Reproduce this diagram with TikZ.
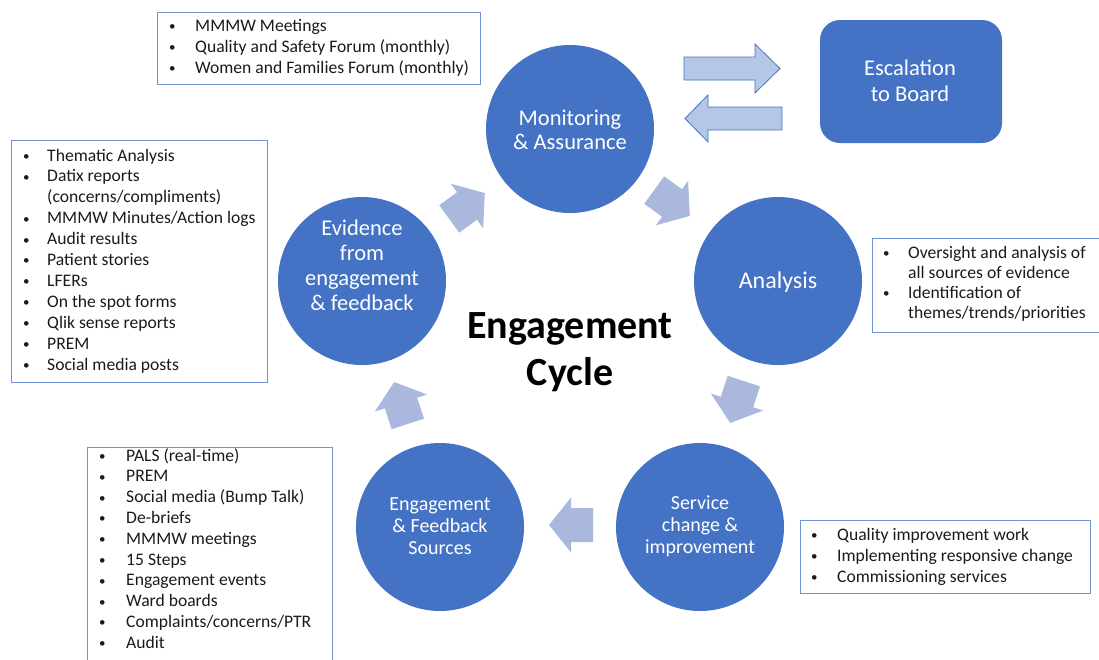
\documentclass[tikz,border=0pt]{standalone}
\usepackage{fontspec}
\setmainfont{Carlito}
\definecolor{cblue}{HTML}{4472C4}
\definecolor{arrowfill}{HTML}{AAB8DE}
\definecolor{dblfill}{HTML}{B4C7E7}
\definecolor{boxline}{HTML}{6E94D6}
\definecolor{listtext}{HTML}{1A1A1A}
\newcommand{\bwid}{25pt}
\newcommand{\bul}{\makebox[\bwid][l]{\hspace*{1pt}{\fontsize{13}{13}\selectfont\raisebox{0.6pt}{\textbullet}}}}
\newcommand{\nob}{\hspace*{\bwid}}
\begin{document}
\begin{tikzpicture}[x=1pt,y=-1pt,
  stage/.style={circle, fill=cblue, minimum size=168pt, inner sep=0pt},
  stagetext/.style={text=white, align=center, inner sep=0pt},
  listbox/.style={draw=boxline, line width=1.3pt, inner sep=0pt, anchor=north west},
  item/.style={anchor=base west, inner sep=0pt, font=\fontsize{17.6}{21}\selectfont, text=listtext},
  cyc/.style={fill=arrowfill, draw=none},
  dbl/.style={fill=dblfill, draw=cblue, line width=0.8pt},
  escbox/.style={fill=cblue, rounded corners=20pt, minimum width=182pt, minimum height=123pt, inner sep=0pt},
  pics/cyclearrow/.style={code={
    \path[cyc] (-22,-17) -- (0,-17) -- (0,-27.5) -- (22,0) -- (0,27.5) -- (0,17) -- (-22,17) -- cycle;}}
]
\useasboundingbox (0,0) rectangle (1099,659);

% stages
\node[stage] (mon) at (570,129) {};
\node[stage] (ana) at (778,281) {};
\node[stage] (ser) at (700,527) {};
\node[stage] (src) at (440,527) {};
\node[stage] (evi) at (362,281) {};

\node[stagetext, font=\fontsize{22.5}{24}\selectfont] (monT) at (570,130) {Monitoring\\\& Assurance};
\node[stagetext, font=\fontsize{24}{26}\selectfont] (anaT) at (778,282) {Analysis};
\node[stagetext, font=\fontsize{20}{22}\selectfont] (serT) at (700,526) {Service\\change \&\\improvement};
\node[stagetext, font=\fontsize{20}{22}\selectfont] (srcT) at (440,526) {Engagement\\\& Feedback\\Sources};
\node[stagetext, font=\fontsize{22.5}{25}\selectfont] (eviT) at (362,265) {Evidence\\from\\engagement\\\& feedback};

% centre title
\node[align=center, inner sep=0pt, font=\bfseries\fontsize{40}{47}\selectfont] (title) at (570,352) {Engagement\\Cycle};

% cycle arrows
\pic[shift={(467,206)}, rotate=36] {cyclearrow};
\pic[shift={(672,203)}, rotate=-36] {cyclearrow};
\pic[shift={(737,402)}, rotate=-108] {cyclearrow};
\pic[shift={(571,525)}, rotate=180] {cyclearrow};
\pic[shift={(401,403)}, rotate=108] {cyclearrow};

% escalation
\node[escbox] (esc) at (911,81.5) {};
\node[stagetext, font=\fontsize{22.5}{26.5}\selectfont] (escT) at (910,81) {Escalation\\to Board};
\path[dbl] (684,57) -- (755,57) -- (755,44) -- (780,68.5) -- (755,93) -- (755,80) -- (684,80) -- cycle;
\path[dbl] (782,107) -- (708,107) -- (708,95) -- (685,118.5) -- (708,142) -- (708,130) -- (782,130) -- cycle;

% list boxes
\node[listbox, minimum width=323pt, minimum height=72pt] (qbox) at (157,12) {};
\node[listbox, minimum width=256pt, minimum height=242pt] (ebox) at (11,140) {};
\node[listbox, minimum width=245pt, minimum height=230pt] (sbox) at (87,447) {};
\node[listbox, minimum width=240pt, minimum height=94pt] (abox) at (872,238) {};
\node[listbox, minimum width=290pt, minimum height=73pt] (cbox) at (800,520) {};

\renewcommand{\bwid}{27pt}
\foreach \t [count=\i from 0] in {MMMW Meetings, Quality and Safety Forum (monthly), Women and Families Forum (monthly)}
  \node[item] (q\i) at (168,{31+21*\i}) {\bul\t};

\renewcommand{\bwid}{25pt}
\foreach \t [count=\i from 0] in {\bul Thematic Analysis, \bul Datix reports, \nob (concerns/compliments), \bul MMMW Minutes/Action logs, \bul Audit results, \bul Patient stories, \bul LFERs, \bul On the spot forms, \bul Qlik sense reports, \bul PREM, \bul Social media posts}
  \node[item] (e\i) at (22,{161+20.9*\i}) {\t};

\renewcommand{\bwid}{28pt}
\foreach \t [count=\i from 0] in {PALS (real-time), PREM, Social media (Bump Talk), De-briefs, MMMW meetings, 15 Steps, Engagement events, Ward boards, Complaints/concerns/PTR, Audit}
  \node[item] (s\i) at (98,{461+20.8*\i}) {\bul\t};

\renewcommand{\bwid}{26pt}
\foreach \t [count=\i from 0] in {\bul Oversight and analysis of, \nob all sources of evidence, \bul Identification of, \nob themes/trends/priorities}
  \node[item] (a\i) at (882,{258+20*\i}) {\t};

\renewcommand{\bwid}{27pt}
\foreach \t [count=\i from 0] in {Quality improvement work, Implementing responsive change, Commissioning services}
  \node[item] (c\i) at (810,{540+21*\i}) {\bul\t};
\end{tikzpicture}
\end{document}
